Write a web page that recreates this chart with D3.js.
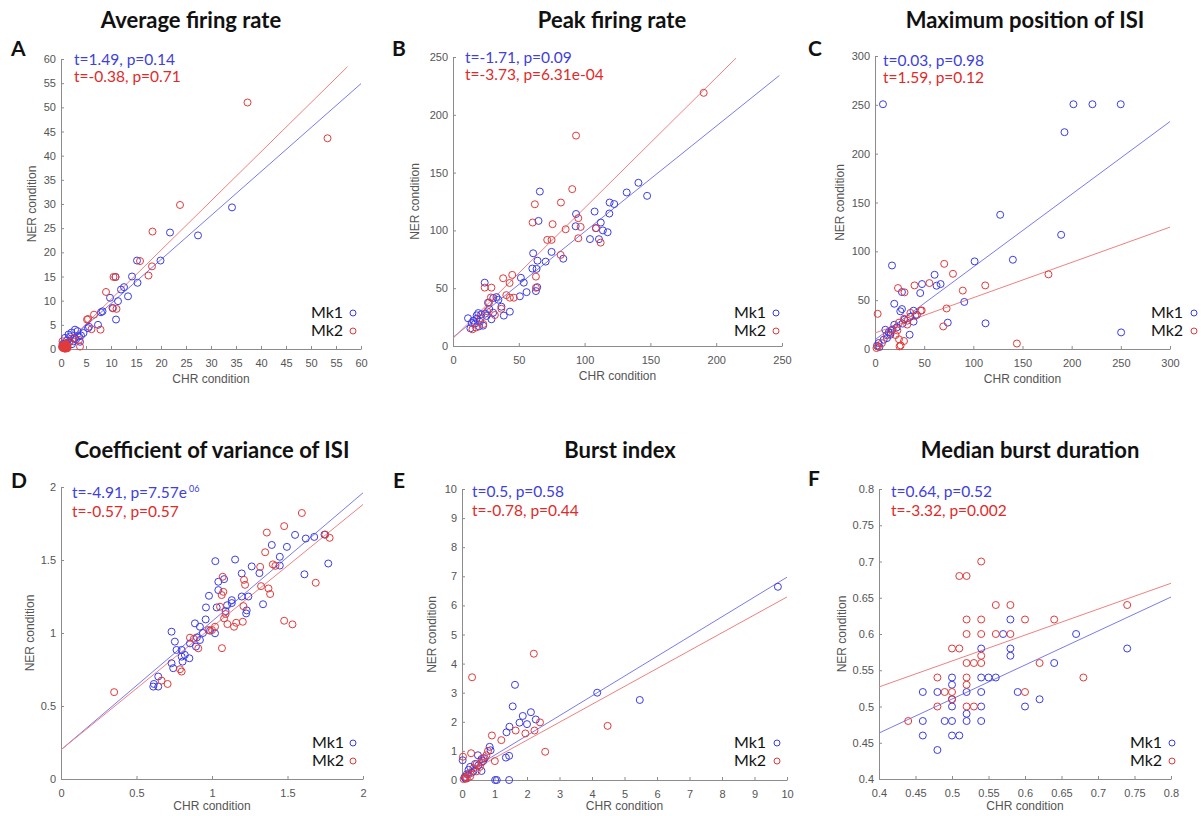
<!DOCTYPE html>
<html><head><meta charset="utf-8">
<script src="https://cdn.jsdelivr.net/npm/d3@7"></script>
<style>body{margin:0;background:#fff}svg{display:block}</style>
</head><body><svg id="chart" width="1201" height="816"></svg>
<script>
// ---------------- DATA ----------------
const panelTitles = ["Average firing rate","Peak firing rate","Maximum position of ISI","Coefficient of variance of ISI","Burst index","Median burst duration"];
const panelLetters = ["A","B","C","D","E","F"];
const seriesNames = ["Mk1","Mk2"];
const statsMk1 = ["t=1.49, p=0.14","t=-1.71, p=0.09","t=0.03, p=0.98","t=-4.91, p=7.57e","t=0.5, p=0.58","t=0.64, p=0.52"];
const statsMk1Sup = ["","","","06","",""];
const statsMk2 = ["t=-0.38, p=0.71","t=-3.73, p=6.31e-04","t=1.59, p=0.12","t=-0.57, p=0.57","t=-0.78, p=0.44","t=-3.32, p=0.002"];
const xAxisLabel = "CHR condition";
const yAxisLabel = "NER condition";

const ticksA = [0,5,10,15,20,25,30,35,40,45,50,55,60];
const ticksB = [0,50,100,150,200,250];
const ticksC = [0,50,100,150,200,250,300];
const ticksD = [0,0.5,1,1.5,2];
const ticksE = [0,1,2,3,4,5,6,7,8,9,10];
const ticksF = [0.4,0.45,0.5,0.55,0.6,0.65,0.7,0.75,0.8];

const avgRateMk1 = [[34.2,29.3],[27.4,23.5],[21.8,24.1],[19.9,18.3],[15.2,18.3],[14.2,15.0],[15.3,13.7],[13.4,10.9],[12.6,12.8],[12.0,12.3],[11.4,9.9],[11.0,6.1],[10.9,14.9],[10.3,8.5],[9.8,10.6],[8.3,7.8],[8.0,7.6],[7.4,5.0],[5.4,4.3],[5.6,4.6],[4.5,3.3],[3.6,2.6],[2.8,4.0],[2.1,3.4],[1.5,3.0],[0.8,2.3],[3.0,2.0],[2.5,1.6],[0.3,1.0],[3.3,3.7],[4.0,2.8],[1.8,2.6],[1.2,1.8],[0.6,0.9],[2.2,1.0],[1.0,1.2],[0.5,0.4],[3.8,1.5],[2.7,2.2],[1.6,1.4],[0.9,0.6],[0.4,0.8]];
const avgRateMk2 = [[37.3,51.0],[53.3,43.6],[23.8,29.8],[18.3,24.3],[18.2,17.1],[17.5,15.2],[15.8,18.2],[10.5,14.9],[10.9,14.9],[9.0,11.8],[11.1,8.3],[10.4,8.4],[6.6,7.1],[5.4,6.2],[5.2,6.1],[6.1,4.1],[7.9,4.0],[3.8,0.5],[3.6,1.9],[2.4,2.2],[1.8,1.5],[0.3,1.6],[1.0,1.0],[0.6,0.5],[0.9,0.3],[1.2,0.6],[0.4,0.2],[0.7,0.8],[1.1,0.4],[0.5,0.9],[0.8,0.5],[1.3,0.2],[0.2,0.4],[0.9,0.7],[0.6,0.2],[1.0,0.3],[0.7,0.4],[0.3,0.6],[1.1,0.8],[0.5,0.6],[0.8,0.1],[1.2,0.3],[0.6,0.7],[1.0,0.6],[0.4,0.5],[1.3,0.5],[0.7,0.1],[0.9,0.9],[1.1,0.1],[0.5,0.3]];
const avgRateFitMk1 = [[0,0.3],[60,54.9]];
const avgRateFitMk2 = [[0,0.1],[57.3,58.4]];

const peakRateMk1 = [[147.5,129.9],[140.9,141.2],[132.0,132.8],[122.5,122.8],[119.0,124.1],[118.8,114.6],[117.5,98.4],[113.9,100.0],[112.3,106.8],[110.9,92.4],[108.6,101.9],[107.6,116.3],[104.1,92.5],[93.5,114.2],[93.2,103.6],[66.0,133.6],[65.0,108.2],[74.9,81.4],[70.4,73.0],[83.8,75.5],[60.9,80.2],[64.2,73.8],[60.3,67.0],[63.5,66.7],[51.6,59.0],[53.8,54.8],[63.0,47.5],[64.0,50.9],[55.9,46.6],[50.8,43.0],[24.1,54.8],[33.0,42.3],[30.6,41.5],[26.6,37.5],[43.2,29.7],[36.8,34.0],[38.6,26.3],[30.5,28.8],[29.2,23.1],[24.5,28.0],[22.9,17.6],[21.5,27.5],[19.2,28.5],[17.9,23.6],[16.7,19.4],[11.4,24.0],[13.2,15.3],[15.5,22.0],[20.5,21.0],[18.0,26.5],[25.5,26.0],[14.2,20.0],[19.8,17.0],[27.5,32.0],[34.5,40.0]];
const peakRateMk2 = [[190.5,219.0],[93.5,182.0],[90.6,135.7],[82.0,124.1],[62.2,122.6],[60.5,106.8],[75.7,105.4],[85.6,101.0],[95.2,110.6],[97.0,103.0],[95.2,93.2],[71.6,91.8],[74.9,91.8],[108.7,102.0],[112.2,89.4],[81.8,78.8],[63.0,60.0],[45.0,61.5],[38.1,58.6],[43.0,54.5],[63.0,50.4],[43.2,41.8],[46.2,41.8],[29.2,50.5],[24.1,50.5],[28.8,42.0],[27.4,37.5],[36.7,32.2],[31.8,26.8],[23.0,19.0],[14.8,14.5],[17.5,16.0],[21.0,24.0],[40.5,44.0],[26.0,30.0]];
const peakRateFitMk1 = [[0,7.5],[248,234.0]];
const peakRateFitMk2 = [[0,6.6],[215,249]];

const isiMaxMk1 = [[8.1,250.6],[201.8,250.6],[221.1,250.6],[249.9,250.6],[192.7,222.0],[127.3,137.4],[189.3,116.9],[140.2,91.4],[101.3,89.7],[17.3,85.5],[250.3,17.0],[112.4,26.3],[74.0,27.0],[90.8,48.2],[60.6,76.0],[47.8,66.5],[66.7,66.5],[62.6,64.8],[46.0,57.3],[27.4,58.3],[19.6,46.3],[27.4,40.9],[25.7,38.6],[39.2,39.2],[42.6,35.0],[35.8,33.0],[39.2,28.0],[19.6,24.8],[17.3,19.7],[13.9,17.0],[10.5,19.7],[15.6,14.6],[12.2,11.2],[8.8,9.5],[35.2,14.6],[3.7,6.1],[2.0,3.4],[4.5,2.0],[22.0,22.0],[30.0,30.0],[16.0,16.5],[28.0,26.0]];
const isiMaxMk2 = [[144.3,5.6],[176.4,76.4],[112.1,65.1],[89.3,59.8],[79.3,77.0],[70.4,87.2],[72.8,41.5],[69.4,23.1],[55.3,67.5],[40.2,65.1],[46.5,39.2],[47.5,39.5],[23.4,62.4],[30.0,58.0],[2.7,36.0],[29.5,31.0],[24.4,27.0],[32.8,25.0],[22.7,19.0],[20.9,14.3],[24.4,9.9],[29.5,8.2],[26.1,3.7],[25.0,2.7],[41.0,34.0],[36.0,37.0],[18.0,20.0],[12.0,14.0],[7.0,6.0],[3.0,2.5],[1.5,1.0],[33.0,29.0]];
const isiMaxFitMk1 = [[0,9.5],[300,232.9]];
const isiMaxFitMk2 = [[0,16.4],[300,124.8]];

const isiCvMk1 = [[1.022,1.492],[1.153,1.503],[1.042,1.351],[1.080,1.369],[1.042,1.294],[0.980,1.255],[0.960,1.175],[1.031,1.175],[1.131,1.225],[1.131,1.205],[1.197,1.408],[1.263,1.456],[1.314,1.410],[1.396,1.603],[1.496,1.590],[1.449,1.522],[1.449,1.462],[1.550,1.672],[1.621,1.647],[1.677,1.658],[1.745,1.674],[1.770,1.476],[1.612,1.402],[1.338,1.197],[1.197,1.250],[1.241,1.250],[1.230,1.155],[1.226,1.134],[1.020,0.998],[0.987,1.016],[0.958,1.093],[0.920,1.043],[0.887,1.066],[0.920,0.952],[0.894,0.907],[0.854,0.929],[0.799,0.884],[0.765,0.884],[0.754,0.941],[0.732,1.009],[0.799,0.838],[0.805,0.804],[0.850,0.827],[0.732,0.793],[0.743,0.759],[0.615,0.651],[0.644,0.702],[0.611,0.633],[0.644,0.633],[0.900,0.970],[0.940,1.000],[1.090,1.150],[1.100,1.190],[0.820,0.850]];
const isiCvMk2 = [[1.595,1.822],[1.478,1.732],[1.363,1.688],[1.352,1.553],[1.319,1.453],[1.403,1.470],[1.325,1.321],[1.374,1.305],[1.385,1.267],[1.687,1.344],[1.750,1.674],[1.779,1.652],[1.478,1.084],[1.533,1.059],[1.219,1.330],[1.212,1.364],[1.208,1.184],[1.204,1.077],[1.075,1.282],[1.071,1.385],[1.064,1.260],[1.053,1.180],[1.066,0.896],[1.146,1.043],[1.102,1.061],[1.080,1.100],[1.020,1.043],[0.976,1.021],[0.909,0.895],[0.854,0.968],[0.799,0.736],[0.788,0.752],[0.706,0.651],[0.666,0.674],[0.352,0.595],[1.000,1.020],[1.090,1.130],[0.880,0.960],[1.160,1.070],[1.420,1.460]];
const isiCvFitMk1 = [[0,0.2],[2,1.96]];
const isiCvFitMk2 = [[0,0.2],[2,1.88]];

const burstIdxMk1 = [[9.72,6.64],[4.16,3.00],[5.47,2.75],[1.63,3.27],[1.56,2.53],[2.12,2.33],[1.87,2.20],[2.27,2.08],[2.00,1.92],[1.77,1.97],[1.46,1.83],[1.37,1.64],[1.45,0.83],[1.35,0.77],[0.85,1.14],[0.88,1.02],[0.02,0.68],[0.60,0.31],[1.02,0.0],[1.07,0.0],[1.45,0.0],[0.49,0.85],[0.60,0.72],[0.70,0.75],[0.40,0.55],[0.25,0.45],[0.35,0.30],[0.15,0.20],[0.08,0.10],[0.50,0.50],[0.30,0.25],[0.65,0.65],[0.20,0.35],[0.10,0.05]];
const burstIdxMk2 = [[2.21,4.34],[0.31,3.53],[4.48,1.86],[2.56,0.97],[2.23,1.70],[1.95,1.60],[1.65,1.70],[2.40,1.98],[1.21,1.37],[0.92,1.53],[1.01,0.65],[0.28,0.92],[0.03,0.80],[0.75,0.85],[0.65,0.75],[0.45,0.55],[0.35,0.40],[0.55,0.45],[0.45,0.30],[0.20,0.20],[0.12,0.10],[0.05,0.03],[0.15,0.05],[0.25,0.12],[0.60,0.60],[0.80,1.00]];
const burstIdxFitMk1 = [[0,0.17],[10,6.97]];
const burstIdxFitMk2 = [[0,0.14],[10,6.29]];

const burstDurMk1 = [[0.74,0.58],[0.67,0.60],[0.64,0.56],[0.62,0.51],[0.60,0.50],[0.59,0.52],[0.58,0.62],[0.58,0.58],[0.58,0.57],[0.57,0.60],[0.56,0.54],[0.55,0.54],[0.54,0.58],[0.54,0.54],[0.54,0.52],[0.54,0.50],[0.54,0.48],[0.52,0.52],[0.52,0.49],[0.52,0.48],[0.51,0.46],[0.50,0.46],[0.50,0.48],[0.50,0.50],[0.50,0.51],[0.50,0.53],[0.50,0.54],[0.49,0.48],[0.48,0.52],[0.48,0.44],[0.46,0.52],[0.46,0.48],[0.46,0.46]];
const burstDurMk2 = [[0.54,0.70],[0.51,0.68],[0.52,0.68],[0.56,0.64],[0.58,0.64],[0.52,0.62],[0.54,0.62],[0.60,0.62],[0.64,0.62],[0.52,0.60],[0.54,0.60],[0.56,0.60],[0.58,0.60],[0.50,0.58],[0.51,0.58],[0.54,0.57],[0.54,0.56],[0.52,0.56],[0.53,0.56],[0.62,0.56],[0.48,0.54],[0.52,0.54],[0.52,0.53],[0.49,0.52],[0.50,0.52],[0.50,0.51],[0.48,0.50],[0.52,0.50],[0.53,0.50],[0.60,0.52],[0.44,0.48],[0.68,0.54],[0.74,0.64]];
const burstDurFitMk1 = [[0.4,0.4634],[0.8,0.651]];
const burstDurFitMk2 = [[0.4,0.527],[0.8,0.670]];

// ---------------- LAYOUT / STYLE ----------------
const layout = [
  {box:[61,59,361,349],  titleX:191, titleY:28,  letterX:11, letterY:56,  statsX:74,  statsY:65,  statsGap:17, legX:311, legCx:353, legY:312, yLabX:32,  xLabDy:34},
  {box:[453,57,782,346], titleX:612, titleY:28,  letterX:392,letterY:56,  statsX:465, statsY:63,  statsGap:17, legX:734, legCx:776, legY:312, yLabX:415, xLabDy:34},
  {box:[875,56,1170,349],titleX:1025,titleY:28,  letterX:808,letterY:56,  statsX:883, statsY:66,  statsGap:17, legX:1151,legCx:1194,legY:312, yLabX:840, xLabDy:34},
  {box:[61,487,363,779], titleX:212, titleY:458, letterX:11, letterY:488, statsX:72,  statsY:498, statsGap:19, legX:312, legCx:353, legY:742, yLabX:30,  xLabDy:31},
  {box:[462,489,787,780],titleX:620, titleY:458, letterX:393,letterY:488, statsX:472, statsY:497, statsGap:19, legX:734, legCx:777, legY:742, yLabX:432, xLabDy:30},
  {box:[879,489,1171,779],titleX:1030,titleY:458,letterX:808,letterY:486, statsX:891, statsY:497, statsGap:19, legX:1130,legCx:1172,legY:742, yLabX:842, xLabDy:31}
];
const blue = "#3c3ce6", red = "#e23a3a";
const blueLine = "#7a7af0", redLine = "#f08080";
const blueText = "#4040dc", redText = "#e02a2a";

const panels = [
  {mk1:avgRateMk1, mk2:avgRateMk2, fit1:avgRateFitMk1, fit2:avgRateFitMk2, ticks:ticksA},
  {mk1:peakRateMk1, mk2:peakRateMk2, fit1:peakRateFitMk1, fit2:peakRateFitMk2, ticks:ticksB},
  {mk1:isiMaxMk1, mk2:isiMaxMk2, fit1:isiMaxFitMk1, fit2:isiMaxFitMk2, ticks:ticksC},
  {mk1:isiCvMk1, mk2:isiCvMk2, fit1:isiCvFitMk1, fit2:isiCvFitMk2, ticks:ticksD},
  {mk1:burstIdxMk1, mk2:burstIdxMk2, fit1:burstIdxFitMk1, fit2:burstIdxFitMk2, ticks:ticksE},
  {mk1:burstDurMk1, mk2:burstDurMk2, fit1:burstDurFitMk1, fit2:burstDurFitMk2, ticks:ticksF}
];

const svg = d3.select("#chart");
const titleFont = "Lato, 'Open Sans', sans-serif";
const axisFont = "'Liberation Sans', Arial, sans-serif";

panels.forEach((p, i) => {
  const L = layout[i];
  const [x0, y0, x1, y1] = L.box;
  const dom = d3.extent(p.ticks);
  const x = d3.scaleLinear().domain(dom).range([x0, x1]);
  const y = d3.scaleLinear().domain(dom).range([y1, y0]);
  const g = svg.append("g");

  // title and letter
  g.append("text").attr("x", L.titleX).attr("y", L.titleY).attr("text-anchor","middle")
    .attr("font-family", titleFont).attr("font-weight", 700).attr("font-size", 22).attr("fill","#111")
    .text(panelTitles[i]);
  g.append("text").attr("x", L.letterX).attr("y", L.letterY)
    .attr("font-family", titleFont).attr("font-weight", 700).attr("font-size", 21).attr("fill","#111")
    .text(panelLetters[i]);

  // axes
  const fmt = d3.format("~g");
  const xa = g.append("g").attr("transform", `translate(0,${y1})`)
    .call(d3.axisBottom(x).tickValues(p.ticks).tickFormat(fmt).tickSizeInner(-3).tickSizeOuter(0).tickPadding(10));
  const ya = g.append("g").attr("transform", `translate(${x0},0)`)
    .call(d3.axisLeft(y).tickValues(p.ticks).tickFormat(fmt).tickSizeInner(-3).tickSizeOuter(0).tickPadding(5));
  [xa, ya].forEach(a => {
    a.select(".domain").attr("stroke", "#8c8c8c");
    a.selectAll(".tick line").attr("stroke", "#8c8c8c");
    a.selectAll(".tick text").attr("fill", "#555").attr("font-family", axisFont).attr("font-size", 11);
  });

  g.append("text").attr("x", (x0 + x1) / 2).attr("y", y1 + L.xLabDy).attr("text-anchor","middle")
    .attr("font-family", axisFont).attr("font-size", 12).attr("fill","#555").text(xAxisLabel);
  g.append("text").attr("transform", `translate(${L.yLabX},${(y0 + y1) / 2}) rotate(-90)`)
    .attr("text-anchor","middle").attr("dy","0.35em")
    .attr("font-family", axisFont).attr("font-size", 12).attr("fill","#555").text(yAxisLabel);

  // regression lines
  const line = d3.line().x(d => x(d[0])).y(d => y(d[1]));
  g.append("path").attr("d", line(p.fit1)).attr("fill","none").attr("stroke", blueLine).attr("stroke-width", 1);
  g.append("path").attr("d", line(p.fit2)).attr("fill","none").attr("stroke", redLine).attr("stroke-width", 1);

  // points
  g.append("g").selectAll("circle").data(p.mk1).join("circle")
    .attr("cx", d => x(d[0])).attr("cy", d => y(d[1])).attr("r", 3.5)
    .attr("fill","none").attr("stroke", blue).attr("stroke-width", 1);
  g.append("g").selectAll("circle").data(p.mk2).join("circle")
    .attr("cx", d => x(d[0])).attr("cy", d => y(d[1])).attr("r", 3.5)
    .attr("fill","none").attr("stroke", red).attr("stroke-width", 1);

  // stats text
  const t1 = g.append("text").attr("x", L.statsX).attr("y", L.statsY)
    .attr("font-family", titleFont).attr("font-size", 15.5).attr("fill", blueText).text(statsMk1[i]);
  if (statsMk1Sup[i]) t1.append("tspan").attr("dy", -6).attr("dx", 2).attr("font-size", 9).text(statsMk1Sup[i]);
  g.append("text").attr("x", L.statsX).attr("y", L.statsY + L.statsGap)
    .attr("font-family", titleFont).attr("font-size", 15.5).attr("fill", redText).text(statsMk2[i]);

  // legend
  [[seriesNames[0], blue], [seriesNames[1], red]].forEach(([name, col], k) => {
    const ly = L.legY + k * 18;
    g.append("text").attr("x", L.legX).attr("y", ly + 5.5)
      .attr("font-family", titleFont).attr("font-size", 16).attr("fill","#111").text(name);
    g.append("circle").attr("cx", L.legCx).attr("cy", ly + 1).attr("r", 3)
      .attr("fill","none").attr("stroke", col).attr("stroke-width", 1);
  });
});
</script>
</body></html>
